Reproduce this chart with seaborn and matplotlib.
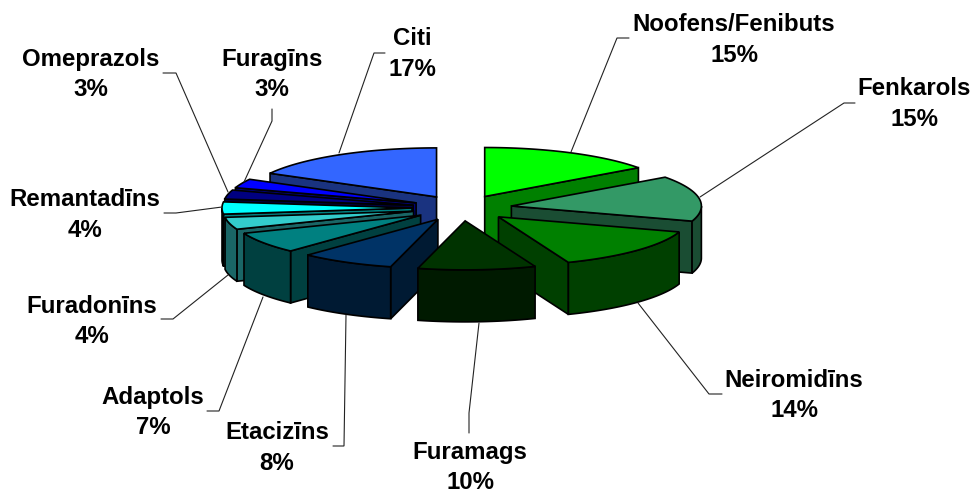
import numpy as np
import matplotlib
matplotlib.use("Agg")
import matplotlib.pyplot as plt
import seaborn as sns

# clockwise from 12 o'clock
names = ["Noofens/Fenibuts", "Fenkarols", "Neiromidīns", "Furamags", "Etacizīns",
         "Adaptols", "Furadonīns", "Remantadīns", "Omeprazols", "Furagīns", "Citi"]
shares = [15, 15, 14, 10, 8, 7, 4, 4, 3, 3, 17]
top_colors = ["#00FF00", "#339966", "#008000", "#003300", "#003366",
              "#008080", "#33CCCC", "#00FFFF", "#000080", "#0000FF", "#3366FF"]

# label centres and leader lines, in pixels
label_x = [734, 914, 794, 470, 277, 153, 92, 85, 91, 272, 412]
label_y = [40, 104, 395.5, 467.5, 448, 412.5, 321.5, 215, 74.5, 74.5, 54]
leaders = [
    [(629, 38), (617, 38), (571, 152)],
    [(855, 103), (844, 103), (700, 197)],
    [(722, 394), (709, 394), (638, 303)],
    [(469, 433), (469, 413), (479, 323)],
    [(333, 446), (344, 446), (346, 315)],
    [(207, 411), (219, 411), (263, 297)],
    [(161, 319), (173, 319), (228, 275)],
    [(164, 213), (176, 213), (222, 207)],
    [(163, 73), (176, 73), (228, 192)],
    [(272, 109), (272, 121), (244, 182)],
    [(385, 53), (374, 53), (339, 153)],
]

# 3D look of the pie
CX, CY = 462, 208
RX, RY = 190, 49
EXPLODE = 50
DEPTH = 52

sns.set_theme(style="white")
plt.rcParams["font.family"] = ["Liberation Sans", "DejaVu Sans"]


def project(cx, cy, angle, rx=RX, ry=RY):
    # angle in radians, clockwise from the top of the pie
    return cx + rx * np.sin(angle), cy - ry * np.cos(angle)


fig = plt.figure(figsize=(9.73, 4.93), dpi=100)
ax = fig.add_axes([0, 0, 1, 1])
ax.set_xlim(0, 973)
ax.set_ylim(493, 0)
ax.axis("off")

palette = sns.color_palette(top_colors)
edges = np.cumsum([0] + shares) / sum(shares) * 2 * np.pi

slices = []
for i, color in enumerate(palette):
    start, end = edges[i], edges[i + 1]
    mid = (start + end) / 2
    cx = CX + EXPLODE * np.sin(mid)
    cy = CY - EXPLODE * RY / RX * np.cos(mid)
    slices.append((cy, cx, start, end, color))

style = dict(edgecolor="black", linewidth=1.2, joinstyle="miter")

# back slices first so the front ones paint over them
for cy, cx, start, end, color in sorted(slices, key=lambda s: s[0]):
    wall = tuple(np.array(color) * 0.5)
    arc = np.linspace(start, end, 80)
    ax_, ay_ = project(cx, cy, arc)

    # flat side walls, only when they face the viewer
    mx, my = project(cx, cy, (start + end) / 2, RX * 0.5, RY * 0.5)
    for rim_x, rim_y in [(ax_[0], ay_[0]), (ax_[-1], ay_[-1])]:
        side = (rim_x - cx) * (my - cy) - (rim_y - cy) * (mx - cx)
        inner_above = side * (rim_x - cx) < 0
        if inner_above:
            ax.fill([cx, rim_x, rim_x, cx], [cy, rim_y, rim_y + DEPTH, cy + DEPTH],
                    facecolor=wall, **style)

    # rim wall on the front half
    front = arc[(arc >= np.pi / 2) & (arc <= 3 * np.pi / 2)]
    if len(front) > 1:
        fx, fy = project(cx, cy, front)
        ax.fill(np.r_[fx, fx[::-1]], np.r_[fy, fy[::-1] + DEPTH], facecolor=wall, **style)

    ax.fill(np.r_[cx, ax_], np.r_[cy, ay_], facecolor=color, **style)

for pts in leaders:
    xs, ys = zip(*pts)
    ax.plot(xs, ys, color="#222222", linewidth=0.8, solid_joinstyle="miter")

for name, share, x, y in zip(names, shares, label_x, label_y):
    ax.text(x, y, f"{name}\n{share}%", ha="center", va="center", ma="center",
            fontsize=17.3, fontweight="bold", color="black", linespacing=1.42)

fig.savefig("out.png", dpi=100)
